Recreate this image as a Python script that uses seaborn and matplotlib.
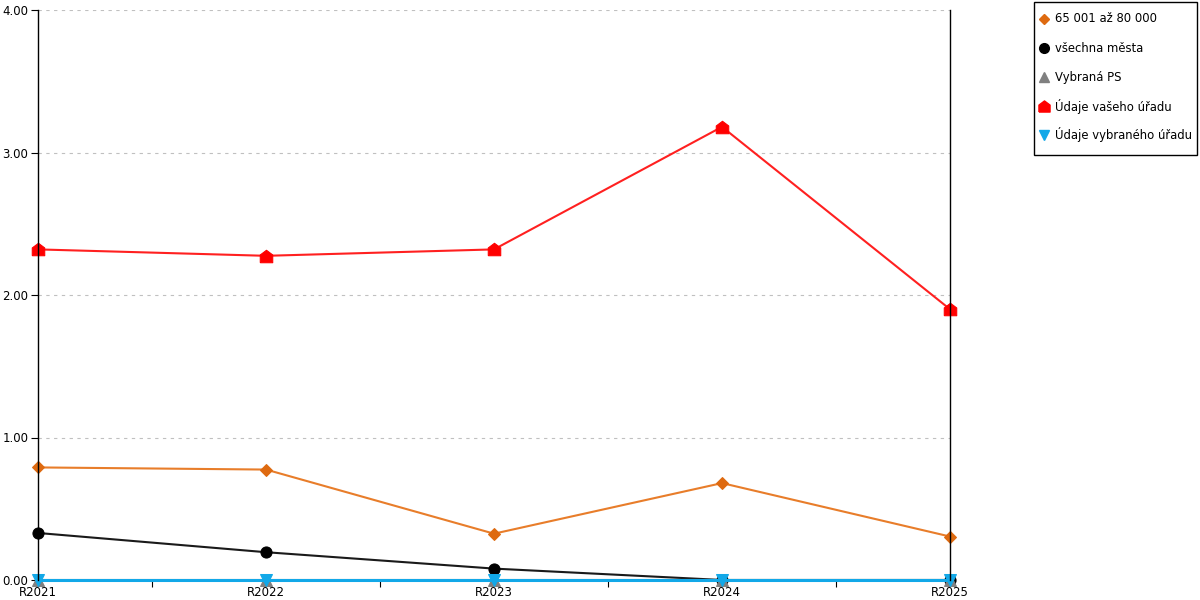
import numpy as np
import pandas as pd
import seaborn as sns
import matplotlib.pyplot as plt
from matplotlib.lines import Line2D
from matplotlib.patches import Rectangle

# Data
years = ["R2021", "R2022", "R2023", "R2024", "R2025"]
vals_65_80 = [0.79, 0.775, 0.325, 0.68, 0.305]
vals_all_cities = [0.33, 0.195, 0.08, 0.0, 0.0]
vals_selected_ps = [0.0, 0.0, 0.0, 0.0, 0.0]
vals_your_office = [2.32, 2.275, 2.32, 3.18, 1.9]
vals_selected_office = [0.0, 0.0, 0.0, 0.0, 0.0]

series_names = ["65 001 až 80 000", "všechna města", "Vybraná PS",
                "Údaje vašeho úřadu", "Údaje vybraného úřadu"]

# house-shaped marker (square with a roof)
house = [(-1, -1), (1, -1), (1, 0.25), (0, 1), (-1, 0.25), (-1, -1)]

styles = {
    "65 001 až 80 000": dict(line="#E87D2A", face="#DE6A10", marker="D", size=6, lw=1.5),
    "všechna města": dict(line="#1a1a1a", face="#000000", marker="o", size=8, lw=1.5),
    "Vybraná PS": dict(line="#808080", face="#808080", marker="^", size=8, lw=1.5),
    "Údaje vašeho úřadu": dict(line="#FF2020", face="#FF0000", marker=house, size=9, lw=1.5),
    "Údaje vybraného úřadu": dict(line="#12A8E8", face="#12A8E8", marker="v", size=8, lw=2.2),
}

df = pd.DataFrame({
    "pos": np.tile(np.arange(len(years)), len(series_names)),
    "value": vals_65_80 + vals_all_cities + vals_selected_ps + vals_your_office + vals_selected_office,
    "series": np.repeat(series_names, len(years)),
})

sns.set_style("white")
plt.rcParams["font.family"] = ["DejaVu Sans"]
plt.rcParams["text.color"] = "black"
plt.rcParams["xtick.color"] = "black"
plt.rcParams["ytick.color"] = "black"

fig = plt.figure(figsize=(12, 6), dpi=100)
ax = fig.add_axes([38 / 1200, 20 / 600, 912 / 1200, 570 / 600])

for i, name in enumerate(series_names):
    st = styles[name]
    sub = df[df["series"] == name]
    sns.lineplot(data=sub, x="pos", y="value", ax=ax, color=st["line"],
                 linewidth=st["lw"], marker=st["marker"], markersize=st["size"],
                 markerfacecolor=st["face"], markeredgecolor=st["face"],
                 clip_on=False, zorder=3 + i, legend=False)

ax.set_xlim(0, len(years) - 1)
ax.set_ylim(0, 4)
ax.set_xlabel("")
ax.set_ylabel("")

ax.set_yticks([0, 1, 2, 3, 4])
ax.set_yticklabels([f"{v:.2f}" for v in [0, 1, 2, 3, 4]], fontsize=8.5)
ax.set_xticks(range(len(years)))
ax.set_xticklabels(years, fontsize=8.5)
ax.set_xticks(np.arange(0.5, len(years) - 1, 1), minor=True)
ax.tick_params(axis="x", which="major", length=0, pad=4)
ax.tick_params(axis="x", which="minor", length=5, width=0.8, color="black", direction="out", bottom=True)
ax.tick_params(axis="y", length=5, width=0.8, color="black", direction="out", left=True, pad=2)

ax.yaxis.grid(True, linestyle=(0, (3, 4)), color="#c0c0c0", linewidth=0.8)
ax.xaxis.grid(False)

for side in ["left", "right"]:
    ax.spines[side].set_visible(True)
    ax.spines[side].set_color("black")
    ax.spines[side].set_linewidth(1.0)
    ax.spines[side].set_zorder(20)
ax.spines["bottom"].set_visible(True)
ax.spines["bottom"].set_color("black")
ax.spines["bottom"].set_zorder(1)
ax.spines["top"].set_visible(False)

# legend built by hand so rows are evenly spaced
for i, name in enumerate(series_names):
    st = styles[name]
    y = 1 - (19 + 29 * i) / 600
    fig.add_artist(Line2D([1044 / 1200], [y], transform=fig.transFigure,
                          linestyle="none", marker=st["marker"],
                          markersize=st["size"] - 1, markerfacecolor=st["face"],
                          markeredgecolor=st["face"]))
    fig.text(1055 / 1200, y, name, fontsize=8.4, va="center", ha="left")

fig.patches.append(Rectangle((1034 / 1200, 1 - 155 / 600), 163 / 1200, 153 / 600,
                             transform=fig.transFigure, fill=False,
                             edgecolor="black", linewidth=1.0))

fig.savefig("out.png", dpi=100)
